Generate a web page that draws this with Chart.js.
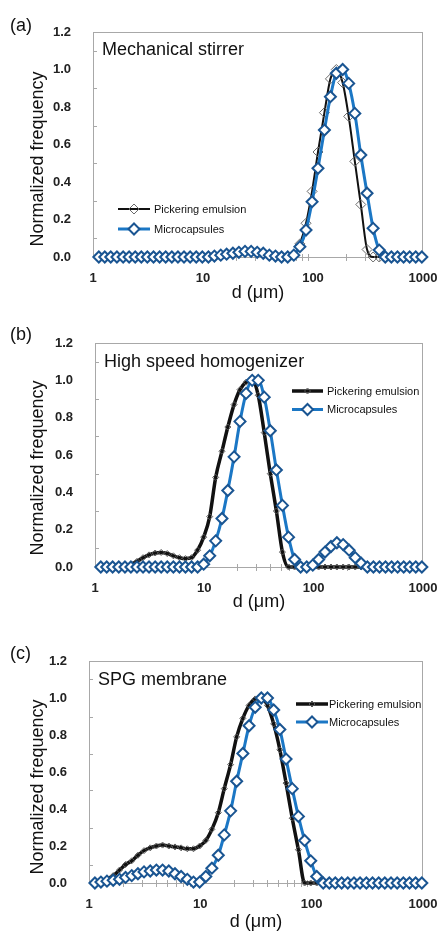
<!DOCTYPE html>
<html>
<head>
<meta charset="utf-8">
<script src="https://cdn.jsdelivr.net/npm/chart.js@4.4.1/dist/chart.umd.min.js"></script>
<style>
  body { margin: 0; background: #fff; width: 439px; height: 931px; overflow: hidden; position: relative;
         font-family: Arial, "Liberation Sans", sans-serif; color: #111; }
  .panel { position: absolute; left: 0; width: 439px; }
  .txt { position: absolute; font-size: 18px; line-height: 18px; white-space: nowrap; }
  .ytitle { position: absolute; left: 37px; font-size: 18px; line-height: 18px; white-space: nowrap;
            transform: translate(-50%, -50%) rotate(-90deg); }
</style>
</head>
<body>
<div class="panel" style="top:0;height:305px"><canvas id="chartA" width="439" height="305"></canvas></div>
<div class="panel" style="top:305px;height:310px"><canvas id="chartB" width="439" height="310"></canvas></div>
<div class="panel" style="top:615px;height:316px"><canvas id="chartC" width="439" height="316"></canvas></div>

<div class="txt" style="left:10px;top:16px">(a)</div>
<div class="txt" style="left:102px;top:40px">Mechanical stirrer</div>
<div class="ytitle" style="top:159px">Normalized frequency</div>
<div class="txt" style="left:10px;top:325px">(b)</div>
<div class="txt" style="left:104px;top:352px">High speed homogenizer</div>
<div class="ytitle" style="top:468px">Normalized frequency</div>
<div class="txt" style="left:10px;top:644px">(c)</div>
<div class="txt" style="left:98px;top:670px">SPG membrane</div>
<div class="ytitle" style="top:787px">Normalized frequency</div>

<script>
// particle size classes (µm), shared by all three panels
const sizes = [1.13, 1.28, 1.45, 1.65, 1.88, 2.13, 2.42, 2.75, 3.12, 3.55,
  4.03, 4.58, 5.21, 5.92, 6.72, 7.64, 8.68, 9.86, 11.2, 12.7,
  14.5, 16.4, 18.7, 21.2, 24.1, 27.4, 31.1, 35.3, 40.1, 45.6,
  51.8, 58.9, 66.9, 76.0, 86.4, 98.1, 111, 127, 144, 163,
  186, 211, 240, 272, 310, 352, 400, 454, 516, 586,
  666, 756, 859, 976];

// (a) mechanical stirrer
const emulsionA = [0, 0, 0, 0, 0, 0, 0, 0, 0, 0,
  0, 0, 0, 0, 0, 0, 0, 0, 0, 0.005,
  0.01, 0.015, 0.02, 0.025, 0.03, 0.03, 0.025, 0.02, 0.01, 0.005,
  0, 0, 0.01, 0.07, 0.18, 0.35, 0.56, 0.77, 0.95, 1.0,
  0.93, 0.75, 0.51, 0.28, 0.04, 0, 0, 0, 0, 0,
  0, 0, 0, 0];
const capsulesA = [0, 0, 0, 0, 0, 0, 0, 0, 0, 0,
  0, 0, 0, 0, 0, 0, 0, 0, 0, 0.005,
  0.01, 0.015, 0.02, 0.025, 0.03, 0.03, 0.025, 0.02, 0.01, 0.005,
  0, 0, 0.01, 0.055, 0.144, 0.295, 0.473, 0.677, 0.855, 0.98,
  1.0, 0.926, 0.766, 0.544, 0.34, 0.153, 0.037, 0, 0, 0,
  0, 0, 0, 0];

// (b) high speed homogenizer
const emulsionB = [0, 0, 0, 0, 0.005, 0.015, 0.03, 0.05, 0.065, 0.075,
  0.078, 0.072, 0.06, 0.05, 0.045, 0.05, 0.09, 0.16, 0.27, 0.48,
  0.62, 0.75, 0.87, 0.95, 0.99, 1.0, 0.92, 0.72, 0.5, 0.3,
  0.08, 0, 0, 0, 0, 0, 0, 0, 0, 0,
  0, 0, 0, 0, 0, 0, 0, 0, 0, 0,
  0, 0, 0, 0];
const capsulesB = [0, 0, 0, 0, 0, 0, 0, 0, 0, 0,
  0, 0, 0, 0, 0, 0, 0, 0.015, 0.06, 0.14,
  0.26, 0.41, 0.59, 0.78, 0.93, 1.0, 1.0, 0.91, 0.73, 0.52,
  0.33, 0.16, 0.04, 0, 0, 0.01, 0.04, 0.08, 0.11, 0.13,
  0.12, 0.09, 0.05, 0.02, 0, 0, 0, 0, 0, 0,
  0, 0, 0, 0];

// (c) SPG membrane
const emulsionC = [0, 0.01, 0.02, 0.04, 0.07, 0.10, 0.12, 0.15, 0.175, 0.19,
  0.2, 0.205, 0.2, 0.195, 0.19, 0.185, 0.185, 0.2, 0.23, 0.29,
  0.38, 0.51, 0.64, 0.79, 0.89, 0.96, 0.995, 1.0, 0.96, 0.86,
  0.72, 0.54, 0.35, 0.18, 0, 0, 0, 0, 0, 0,
  0, 0, 0, 0, 0, 0, 0, 0, 0, 0,
  0, 0, 0, 0];
const capsulesC = [0, 0.005, 0.01, 0.015, 0.02, 0.03, 0.04, 0.05, 0.06, 0.065,
  0.07, 0.07, 0.065, 0.05, 0.035, 0.02, 0.005, 0.005, 0.035, 0.08,
  0.15, 0.26, 0.39, 0.55, 0.70, 0.85, 0.95, 1.0, 1.0, 0.935,
  0.83, 0.67, 0.51, 0.36, 0.23, 0.12, 0.035, 0, 0, 0,
  0, 0, 0, 0, 0, 0, 0, 0, 0, 0,
  0, 0, 0, 0];

const xTicks = [1, 10, 100, 1000];
const yTicks = [0, 0.2, 0.4, 0.6, 0.8, 1.0, 1.2];
const xMinor = [2, 3, 4, 5, 6, 7, 8, 9, 20, 30, 40, 50, 60, 70, 80, 90, 200, 300, 400, 500, 600, 700, 800, 900];
const yMinor = [0.1, 0.3, 0.5, 0.7, 0.9, 1.1];

const FONT = 'Arial, "Liberation Sans", sans-serif';

// plot frame + small minor ticks
const framePlugin = {
  id: "frame",
  beforeDatasetsDraw(chart) {
    const { ctx, chartArea: a, scales } = chart;
    ctx.save();
    ctx.strokeStyle = "#a8a8a8";
    ctx.lineWidth = 1;
    ctx.strokeRect(a.left + 0.5, a.top + 0.5, a.right - a.left - 1, a.bottom - a.top);
    ctx.beginPath();
    xMinor.forEach((v) => {
      const px = Math.round(scales.x.getPixelForValue(v)) + 0.5;
      ctx.moveTo(px, a.bottom - 3);
      ctx.lineTo(px, a.bottom + 4);
    });
    yMinor.forEach((v) => {
      const py = Math.round(scales.y.getPixelForValue(v)) + 0.5;
      ctx.moveTo(a.left, py);
      ctx.lineTo(a.left + 4, py);
    });
    ctx.stroke();
    ctx.restore();
  },
};

// legend drawn inside the plot, Excel style
const boxLegend = {
  id: "boxLegend",
  afterDraw(chart, args, opts) {
    const { ctx } = chart;
    chart.data.datasets.forEach((ds, k) => {
      const yy = opts.y + k * opts.gap;
      ctx.save();
      ctx.strokeStyle = ds.borderColor;
      ctx.lineWidth = ds.borderWidth;
      ctx.beginPath();
      ctx.moveTo(opts.x, yy);
      ctx.lineTo(opts.x + opts.len, yy);
      ctx.stroke();
      ctx.fillStyle = ds.pointBackgroundColor;
      ctx.strokeStyle = ds.pointBorderColor;
      ctx.lineWidth = ds.pointBorderWidth;
      Chart.helpers.drawPoint(ctx, { pointStyle: "rectRot", rotation: 0, radius: ds.pointRadius, borderWidth: ds.pointBorderWidth },
        opts.x + opts.len / 2, yy);
      ctx.fillStyle = "#111";
      ctx.font = "11px " + FONT;
      ctx.textBaseline = "middle";
      ctx.fillText(ds.label, opts.textX, yy + 0.5);
      ctx.restore();
    });
  },
};

function makePanel(id, emulsion, capsules, g) {
  const pts = (arr) => sizes.map((d, i) => ({ x: d, y: arr[i] }));
  const tickFont = { family: FONT, size: 13, weight: "bold" };
  return new Chart(document.getElementById(id), {
    type: "line",
    data: {
      datasets: [
        {
          label: "Pickering emulsion",
          data: pts(emulsion),
          borderColor: "#111",
          borderWidth: g.blackWidth,
          pointStyle: "rectRot",
          pointRadius: g.blackRadius,
          pointBorderColor: g.blackMarker,
          pointBorderWidth: 1,
          pointBackgroundColor: "rgba(255,255,255,0)",
          cubicInterpolationMode: "monotone",
          clip: false,
          order: 2,
        },
        {
          label: "Microcapsules",
          data: pts(capsules),
          borderColor: "#1b77c5",
          borderWidth: 3,
          pointStyle: "rectRot",
          pointRadius: 5.5,
          pointBorderColor: "#1a5592",
          pointBorderWidth: 2,
          pointBackgroundColor: "#ffffff",
          cubicInterpolationMode: "monotone",
          clip: false,
          order: 1,
        },
      ],
    },
    options: {
      responsive: false,
      animation: false,
      layout: { padding: { left: 0, top: g.top, right: 16, bottom: g.bottom } },
      plugins: {
        legend: { display: false },
        tooltip: { enabled: false },
        boxLegend: g.legend,
      },
      scales: {
        x: {
          type: "logarithmic",
          min: 1,
          max: 1000,
          afterBuildTicks: (s) => { s.ticks = xTicks.map((v) => ({ value: v })); },
          afterFit: (s) => { s.height = g.xHeight; },
          grid: { display: false },
          border: { display: false },
          // tall line box puts the labels ~20px under the axis without adding side padding
          ticks: { font: { ...tickFont, lineHeight: "26px" }, color: "#222", padding: 0, maxRotation: 0, autoSkip: false,
                   callback: (v) => String(v) },
          title: { display: true, text: "d (μm)", color: "#111",
                   font: { family: FONT, size: 18, lineHeight: 1 }, padding: { top: 0, bottom: 0 } },
        },
        y: {
          min: 0,
          max: 1.2,
          afterBuildTicks: (s) => { s.ticks = yTicks.map((v) => ({ value: v })); },
          afterFit: (s) => { s.width = g.yWidth; },
          grid: { display: false },
          border: { display: false },
          ticks: { font: tickFont, color: "#222", padding: 14, callback: (v) => Number(v).toFixed(1) },
        },
      },
    },
    plugins: [framePlugin, boxLegend],
  });
}

makePanel("chartA", emulsionA, capsulesA, {
  top: 32, bottom: 3, yWidth: 93, xHeight: 45, blackWidth: 2, blackRadius: 5, blackMarker: "#6a6a6a",
  legend: { x: 118, y: 209, gap: 20, len: 32, textX: 154 },
});
makePanel("chartB", emulsionB, capsulesB, {
  top: 38, bottom: 4, yWidth: 95, xHeight: 44, blackWidth: 3.5, blackRadius: 3, blackMarker: "#555",
  legend: { x: 292, y: 86, gap: 18.5, len: 31, textX: 327 },
});
makePanel("chartC", emulsionC, capsulesC, {
  top: 46, bottom: 0, yWidth: 89, xHeight: 48, blackWidth: 3.5, blackRadius: 3, blackMarker: "#555",
  legend: { x: 296, y: 89, gap: 18, len: 32, textX: 329 },
});
</script>
</body>
</html>
